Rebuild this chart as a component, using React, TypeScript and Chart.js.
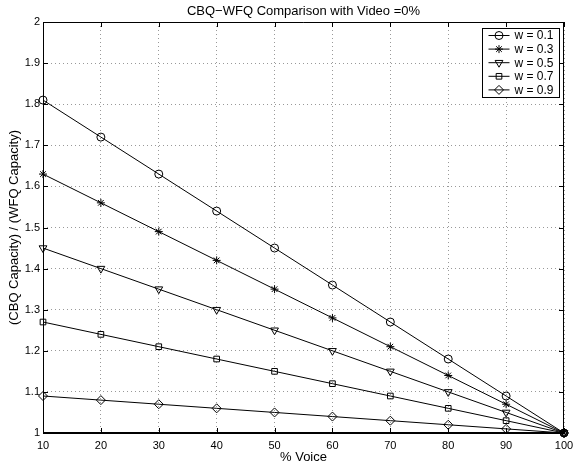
import React, { useEffect, useRef } from 'react';
import { Chart, registerables } from 'chart.js';
import { drawPoint } from 'chart.js/helpers';

Chart.register(...registerables);

const voice = [10, 20, 30, 40, 50, 60, 70, 80, 90, 100];
const seriesLabels = ['w = 0.1', 'w = 0.3', 'w = 0.5', 'w = 0.7', 'w = 0.9'];
const w01 = [1.81, 1.72, 1.63, 1.54, 1.45, 1.36, 1.27, 1.18, 1.09, 1.0];
const w03 = [1.63, 1.56, 1.49, 1.42, 1.35, 1.28, 1.21, 1.14, 1.07, 1.0];
const w05 = [1.45, 1.4, 1.35, 1.3, 1.25, 1.2, 1.15, 1.1, 1.05, 1.0];
const w07 = [1.27, 1.24, 1.21, 1.18, 1.15, 1.12, 1.09, 1.06, 1.03, 1.0];
const w09 = [1.09, 1.08, 1.07, 1.06, 1.05, 1.04, 1.03, 1.02, 1.01, 1.0];
const xTicks = [10, 20, 30, 40, 50, 60, 70, 80, 90, 100];
const yTicks = [1, 1.1, 1.2, 1.3, 1.4, 1.5, 1.6, 1.7, 1.8, 1.9, 2];
const yTickLabels = ['1', '1.1', '1.2', '1.3', '1.4', '1.5', '1.6', '1.7', '1.8', '1.9', '2'];
const titleText = 'CBQ\u2212WFQ Comparison with Video =0%';
const xTitle = '% Voice';
const yTitle = '(CBQ Capacity) / (WFQ Capacity)';

const FONT = '"Liberation Sans", Arial, Helvetica, sans-serif';

const markers = [
  { pointStyle: 'circle', radius: 4, rotation: 0 },
  { pointStyle: 'star', radius: 4, rotation: 0 },
  { pointStyle: 'triangle', radius: 4.5, rotation: 180 },
  { pointStyle: 'rect', radius: 4, rotation: 0 },
  { pointStyle: 'rectRot', radius: 4.5, rotation: 0 },
];

const boxPlugin = {
  id: 'matlabBox',
  afterDatasetsDraw(chart: any) {
    const { ctx, chartArea } = chart;
    const { left, right, top, bottom } = chartArea;
    const xs = chart.scales.x;
    const ys = chart.scales.y;
    ctx.save();
    ctx.strokeStyle = '#000';
    ctx.lineWidth = 1;
    ctx.beginPath();
    ctx.moveTo(left + 0.5, bottom);
    ctx.lineTo(left + 0.5, top + 0.5);
    ctx.lineTo(right - 0.5, top + 0.5);
    ctx.lineTo(right - 0.5, bottom);
    ctx.stroke();
    ctx.lineWidth = 2;
    ctx.beginPath();
    ctx.moveTo(left, bottom);
    ctx.lineTo(right, bottom);
    ctx.stroke();
    ctx.lineWidth = 1;
    const tl = 5;
    ctx.beginPath();
    xTicks.forEach((v) => {
      const px = Math.round(xs.getPixelForValue(v)) + 0.5;
      ctx.moveTo(px, bottom);
      ctx.lineTo(px, bottom - tl);
      ctx.moveTo(px, top);
      ctx.lineTo(px, top + tl);
    });
    yTicks.forEach((v) => {
      const py = Math.round(ys.getPixelForValue(v)) + 0.5;
      ctx.moveTo(left, py);
      ctx.lineTo(left + tl, py);
      ctx.moveTo(right, py);
      ctx.lineTo(right - tl, py);
    });
    ctx.stroke();

    // legend
    const bw = 77;
    const bh = 69;
    const bx = Math.round(right - 5 - bw) + 0.5;
    const by = Math.round(top + 6) + 0.5;
    ctx.fillStyle = '#fff';
    ctx.fillRect(bx, by, bw, bh);
    ctx.strokeRect(bx, by, bw, bh);
    ctx.font = '12px ' + FONT;
    ctx.textBaseline = 'middle';
    ctx.textAlign = 'left';
    chart.data.datasets.forEach((ds: any, i: number) => {
      const cy = by + 7 + i * 13.6;
      ctx.strokeStyle = '#000';
      ctx.lineWidth = 1;
      ctx.beginPath();
      ctx.moveTo(bx + 6, cy);
      ctx.lineTo(bx + 27, cy);
      ctx.stroke();
      ctx.fillStyle = 'rgba(0,0,0,0)';
      const m = markers[i];
      drawPoint(ctx, { pointStyle: m.pointStyle, radius: m.radius, rotation: m.rotation, borderWidth: 1 } as any, bx + 16.5, cy);
      ctx.fillStyle = '#000';
      ctx.fillText(ds.label, bx + 32, cy + 0.5);
    });

    // title
    ctx.font = '13px ' + FONT;
    ctx.textAlign = 'center';
    ctx.textBaseline = 'middle';
    ctx.fillStyle = '#000';
    ctx.fillText(titleText, (left + right) / 2, 11);
    ctx.restore();
  },
};

export default function App() {
  const ref = useRef<HTMLCanvasElement | null>(null);
  useEffect(() => {
    document.body.style.margin = '0';
    const allSeries = [w01, w03, w05, w07, w09];
    const chart = new Chart(ref.current as HTMLCanvasElement, {
      type: 'line',
      data: {
        datasets: allSeries.map((s, i) => ({
          label: seriesLabels[i],
          data: voice.map((x, j) => ({ x, y: s[j] })),
          borderColor: '#000',
          borderWidth: 1,
          backgroundColor: 'rgba(0,0,0,0)',
          pointBackgroundColor: 'rgba(0,0,0,0)',
          pointBorderColor: '#000',
          pointBorderWidth: 1,
          pointStyle: markers[i].pointStyle as any,
          pointRadius: markers[i].radius,
          pointRotation: markers[i].rotation,
          tension: 0,
          fill: false,
          clip: false as any,
        })),
      },
      options: {
        responsive: false,
        animation: false,
        devicePixelRatio: 1,
        layout: { padding: { left: 0, right: 10, top: 22, bottom: 0 } },
        plugins: {
          legend: { display: false },
          title: { display: false },
          tooltip: { enabled: false },
        },
        scales: {
          x: {
            type: 'linear',
            min: 10,
            max: 100,
            afterFit: (s: any) => {
              s.height = 33;
              s.paddingLeft = 0;
              s.paddingRight = 0;
            },
            afterBuildTicks: (s: any) => { s.ticks = xTicks.map((v) => ({ value: v })); },
            ticks: {
              color: '#000',
              font: { family: FONT, size: 11 },
              padding: 6,
              maxRotation: 0,
              autoSkip: false,
            },
            grid: { color: 'rgba(0,0,0,0.4)', drawTicks: false, lineWidth: 1 },
            border: { display: false, dash: [1, 3] },
            title: {
              display: true,
              text: xTitle,
              color: '#000',
              font: { family: FONT, size: 13 },
              padding: { top: 0, bottom: 1 },
            },
          },
          y: {
            type: 'linear',
            min: 1,
            max: 2,
            afterFit: (s: any) => {
              s.width = 43;
              s.paddingTop = 0;
              s.paddingBottom = 0;
            },
            afterBuildTicks: (s: any) => { s.ticks = yTicks.map((v) => ({ value: v })); },
            ticks: {
              color: '#000',
              font: { family: FONT, size: 11 },
              padding: 3,
              autoSkip: false,
              callback: (_v: any, idx: number) => yTickLabels[idx],
            },
            grid: { color: 'rgba(0,0,0,0.4)', drawTicks: false, lineWidth: 1 },
            border: { display: false, dash: [1, 3] },
            title: {
              display: true,
              text: yTitle,
              color: '#000',
              font: { family: FONT, size: 13 },
              padding: { top: 7, bottom: 0 },
            },
          },
        },
      },
      plugins: [boxPlugin],
    } as any);
    return () => chart.destroy();
  }, []);
  return (
    <div style={{ width: 574, height: 466 }}>
      <canvas ref={ref} width={574} height={466} style={{ display: 'block' }} />
    </div>
  );
}
